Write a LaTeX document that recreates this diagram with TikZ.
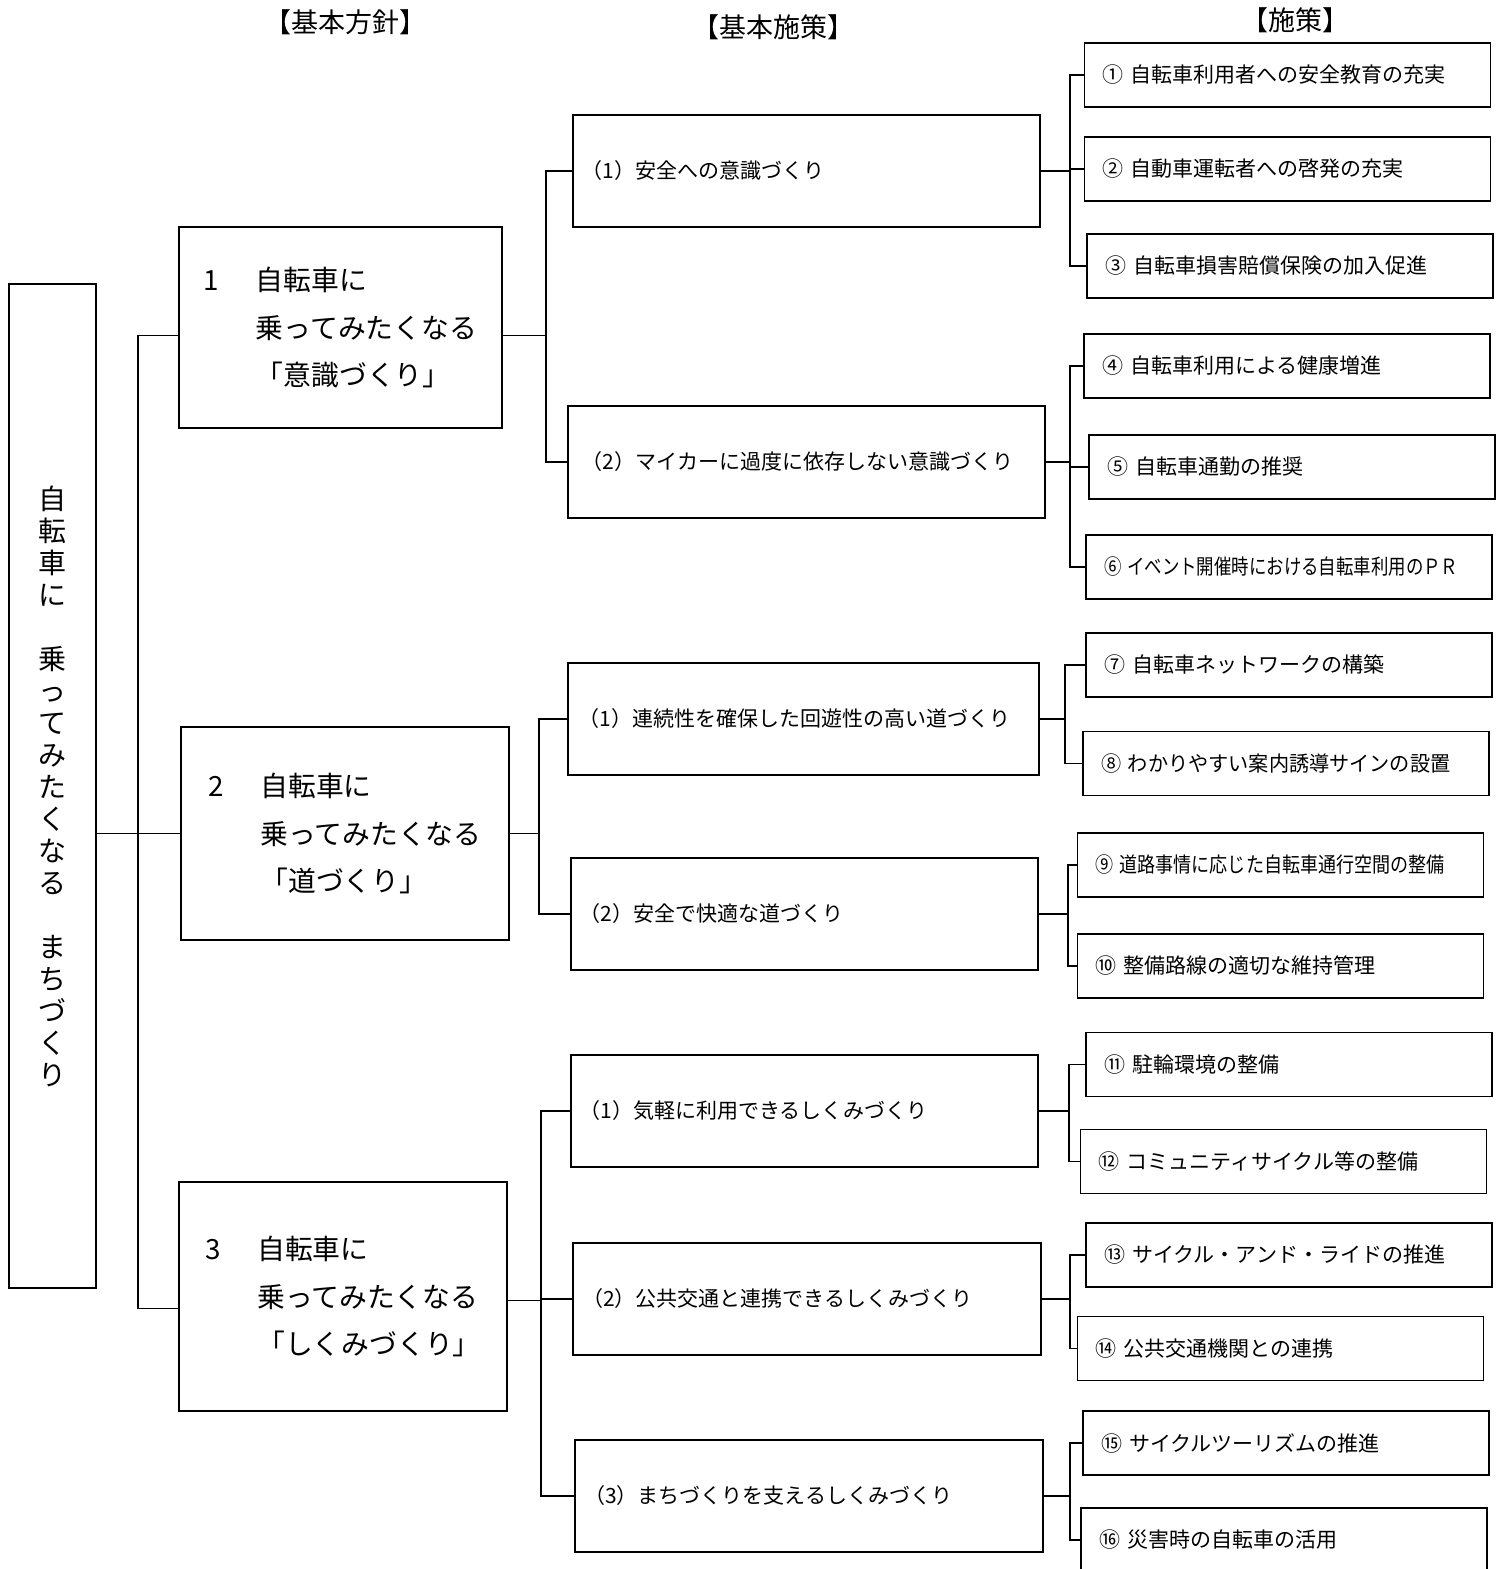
\documentclass[tikz,border=0pt]{standalone}
\usepackage{fontspec}
\setmainfont{Noto Sans CJK JP}
\usepackage{graphicx}
\usepackage{tikz}
\newcommand{\narrowtxt}[2]{\scalebox{#1}[1]{#2}}

\begin{document}
\begin{tikzpicture}[x=0.5pt,y=-0.5pt,
	head/.style={font=\fontsize{13.5pt}{15pt}\selectfont},
	hoshin/.style={draw=black,line width=0.7pt,align=left,font=\fontsize{13.9pt}{23.75pt}\selectfont},
	shisaku/.style={draw=black,line width=0.7pt,inner xsep=4pt,text width=225pt,align=left,minimum height=56pt,font=\fontsize{10.5pt}{13pt}\selectfont},
	sesaku/.style={draw=black,line width=0.7pt,inner xsep=9pt,text width=185pt,align=left,minimum width=203pt,minimum height=32pt,font=\fontsize{10.5pt}{13pt}\selectfont},
	link/.style={line width=0.9pt}]
		\useasboundingbox (0,0) rectangle (1504,1569);
		
		\node[head] (h1) at (345,22) {【基本方針】};
		\node[head] (h2) at (773,27) {【基本施策】};
		\node[head] (h3) at (1295,20) {【施策】};
		
		\node[draw=black,line width=0.7pt,minimum width=43.5pt,minimum height=502pt,align=center,font=\fontsize{14pt}{16pt}\selectfont] (L) at (52.5,786) {自\\転\\車\\に\\[16pt]乗\\っ\\て\\み\\た\\く\\な\\る\\[16pt]ま\\ち\\づ\\く\\り};
		
		\node[hoshin,minimum width=161.5pt,minimum height=100.5pt] (M1) at (340.5,327.5) {\makebox[26pt][l]{1}自転車に\\\hspace*{26pt}乗ってみたくなる\\\hspace*{26pt}「意識づくり」};
		\node[hoshin,minimum width=164pt,minimum height=106.5pt] (M2) at (345,833.5) {\makebox[26pt][l]{2}自転車に\\\hspace*{26pt}乗ってみたくなる\\\hspace*{26pt}「道づくり」};
		\node[hoshin,minimum width=164pt,minimum height=114.5pt] (M3) at (343,1296.5) {\makebox[26pt][l]{3}自転車に\\\hspace*{26pt}乗ってみたくなる\\\hspace*{26pt}「しくみづくり」};
		
		\node[shisaku,minimum width=233.5pt] (S11) at (806.5,171) {（1）安全への意識づくり};
		\node[shisaku,minimum width=238.5pt] (S12) at (806.5,462) {（2）マイカーに過度に依存しない意識づくり};
		\node[shisaku,minimum width=235.5pt] (S21) at (803.5,719) {（1）連続性を確保した回遊性の高い道づくり};
		\node[shisaku,minimum width=233.5pt] (S22) at (804.5,914) {（2）安全で快適な道づくり};
		\node[shisaku,minimum width=233.5pt] (S31) at (804.5,1111) {（1）気軽に利用できるしくみづくり};
		\node[shisaku,minimum width=234pt] (S32) at (807,1299) {（2）公共交通と連携できるしくみづくり};
		\node[shisaku,minimum width=234pt] (S33) at (809,1496) {（3）まちづくりを支えるしくみづくり};
		
		\node[sesaku] (T1) at (1287.5,75) {①~自転車利用者への安全教育の充実};
		\node[sesaku] (T2) at (1287.5,169) {②~自動車運転者への啓発の充実};
		\node[sesaku] (T3) at (1290,266) {③~自転車損害賠償保険の加入促進};
		\node[sesaku] (T4) at (1287,366) {④~自転車利用による健康増進};
		\node[sesaku] (T5) at (1292,467) {⑤~自転車通勤の推奨};
		\node[sesaku] (T6) at (1289,567) {\narrowtxt{0.83}{⑥~イベント開催時における自転車利用のＰＲ}};
		\node[sesaku] (T7) at (1289,665) {⑦~自転車ネットワークの構築};
		\node[sesaku] (T8) at (1286,763.5) {\narrowtxt{0.96}{⑧~わかりやすい案内誘導サインの設置}};
		\node[sesaku] (T9) at (1280.5,865) {\narrowtxt{0.86}{⑨~道路事情に応じた自転車通行空間の整備}};
		\node[sesaku] (T10) at (1280.5,966) {⑩~整備路線の適切な維持管理};
		\node[sesaku] (T11) at (1289,1064.5) {⑪~駐輪環境の整備};
		\node[sesaku] (T12) at (1283.5,1161.5) {⑫~コミュニティサイクル等の整備};
		\node[sesaku] (T13) at (1289,1255) {⑬~サイクル・アンド・ライドの推進};
		\node[sesaku] (T14) at (1280.5,1348.5) {⑭~公共交通機関との連携};
		\node[sesaku] (T15) at (1286,1443) {⑮~サイクルツーリズムの推進};
		\node[sesaku] (T16) at (1284,1540) {⑯~災害時の自転車の活用};
		
		% bus lines
		\coordinate (sp) at (138,0);
		\coordinate (b1) at (546,0);
		\coordinate (b2) at (539,0);
		\coordinate (b3) at (541,0);
		\coordinate (c1) at (1070,0);
		\coordinate (c2) at (1070,0);
		\coordinate (c3) at (1065,0);
		\coordinate (c4) at (1068,0);
		\coordinate (c5) at (1069,0);
		\coordinate (c6) at (1070,0);
		\coordinate (c7) at (1070,0);
		
		\draw[link] (L.east |- M2.west) -- (M2.west);
		\draw[link] ([yshift=-4pt]M1.west) -- ([yshift=-4pt]M1.west -| sp) -- ([yshift=-6pt]M3.west -| sp) -- ([yshift=-6pt]M3.west);
		
		\draw[link] ([yshift=-4pt]M1.east) -- ([yshift=-4pt]M1.east -| b1);
		\draw[link] (S11.west) -- (S11.west -| b1) -- (S12.west -| b1) -- (S12.west);
		\draw[link] (M2.east) -- (M2.east -| b2);
		\draw[link] (S21.west) -- (S21.west -| b2) -- (S22.west -| b2) -- (S22.west);
		\draw[link] ([yshift=-2pt]M3.east) -- ([yshift=-2pt]M3.east -| b3);
		\draw[link] (S31.west) -- (S31.west -| b3) -- (S33.west -| b3) -- (S33.west);
		\draw[link] (S32.west) -- (S32.west -| b3);
		
		\draw[link] (S11.east) -- (S11.east -| c1);
		\draw[link] (T1.west) -- (T1.west -| c1) -- (T3.west -| c1) -- (T3.west);
		\draw[link] (T2.west) -- (T2.west -| c1);
		\draw[link] (S12.east) -- (S12.east -| c2);
		\draw[link] (T4.west) -- (T4.west -| c2) -- (T6.west -| c2) -- (T6.west);
		\draw[link] (T5.west) -- (T5.west -| c2);
		\draw[link] (S21.east) -- (S21.east -| c3);
		\draw[link] (T7.west) -- (T7.west -| c3) -- (T8.west -| c3) -- (T8.west);
		\draw[link] (S22.east) -- (S22.east -| c4);
		\draw[link] (T9.west) -- (T9.west -| c4) -- (T10.west -| c4) -- (T10.west);
		\draw[link] (S31.east) -- (S31.east -| c5);
		\draw[link] (T11.west) -- (T11.west -| c5) -- (T12.west -| c5) -- (T12.west);
		\draw[link] (S32.east) -- (S32.east -| c6);
		\draw[link] (T13.west) -- (T13.west -| c6) -- (T14.west -| c6) -- (T14.west);
		\draw[link] (S33.east) -- (S33.east -| c7);
		\draw[link] (T15.west) -- (T15.west -| c7) -- (T16.west -| c7) -- (T16.west);
	\end{tikzpicture}
\end{document}
